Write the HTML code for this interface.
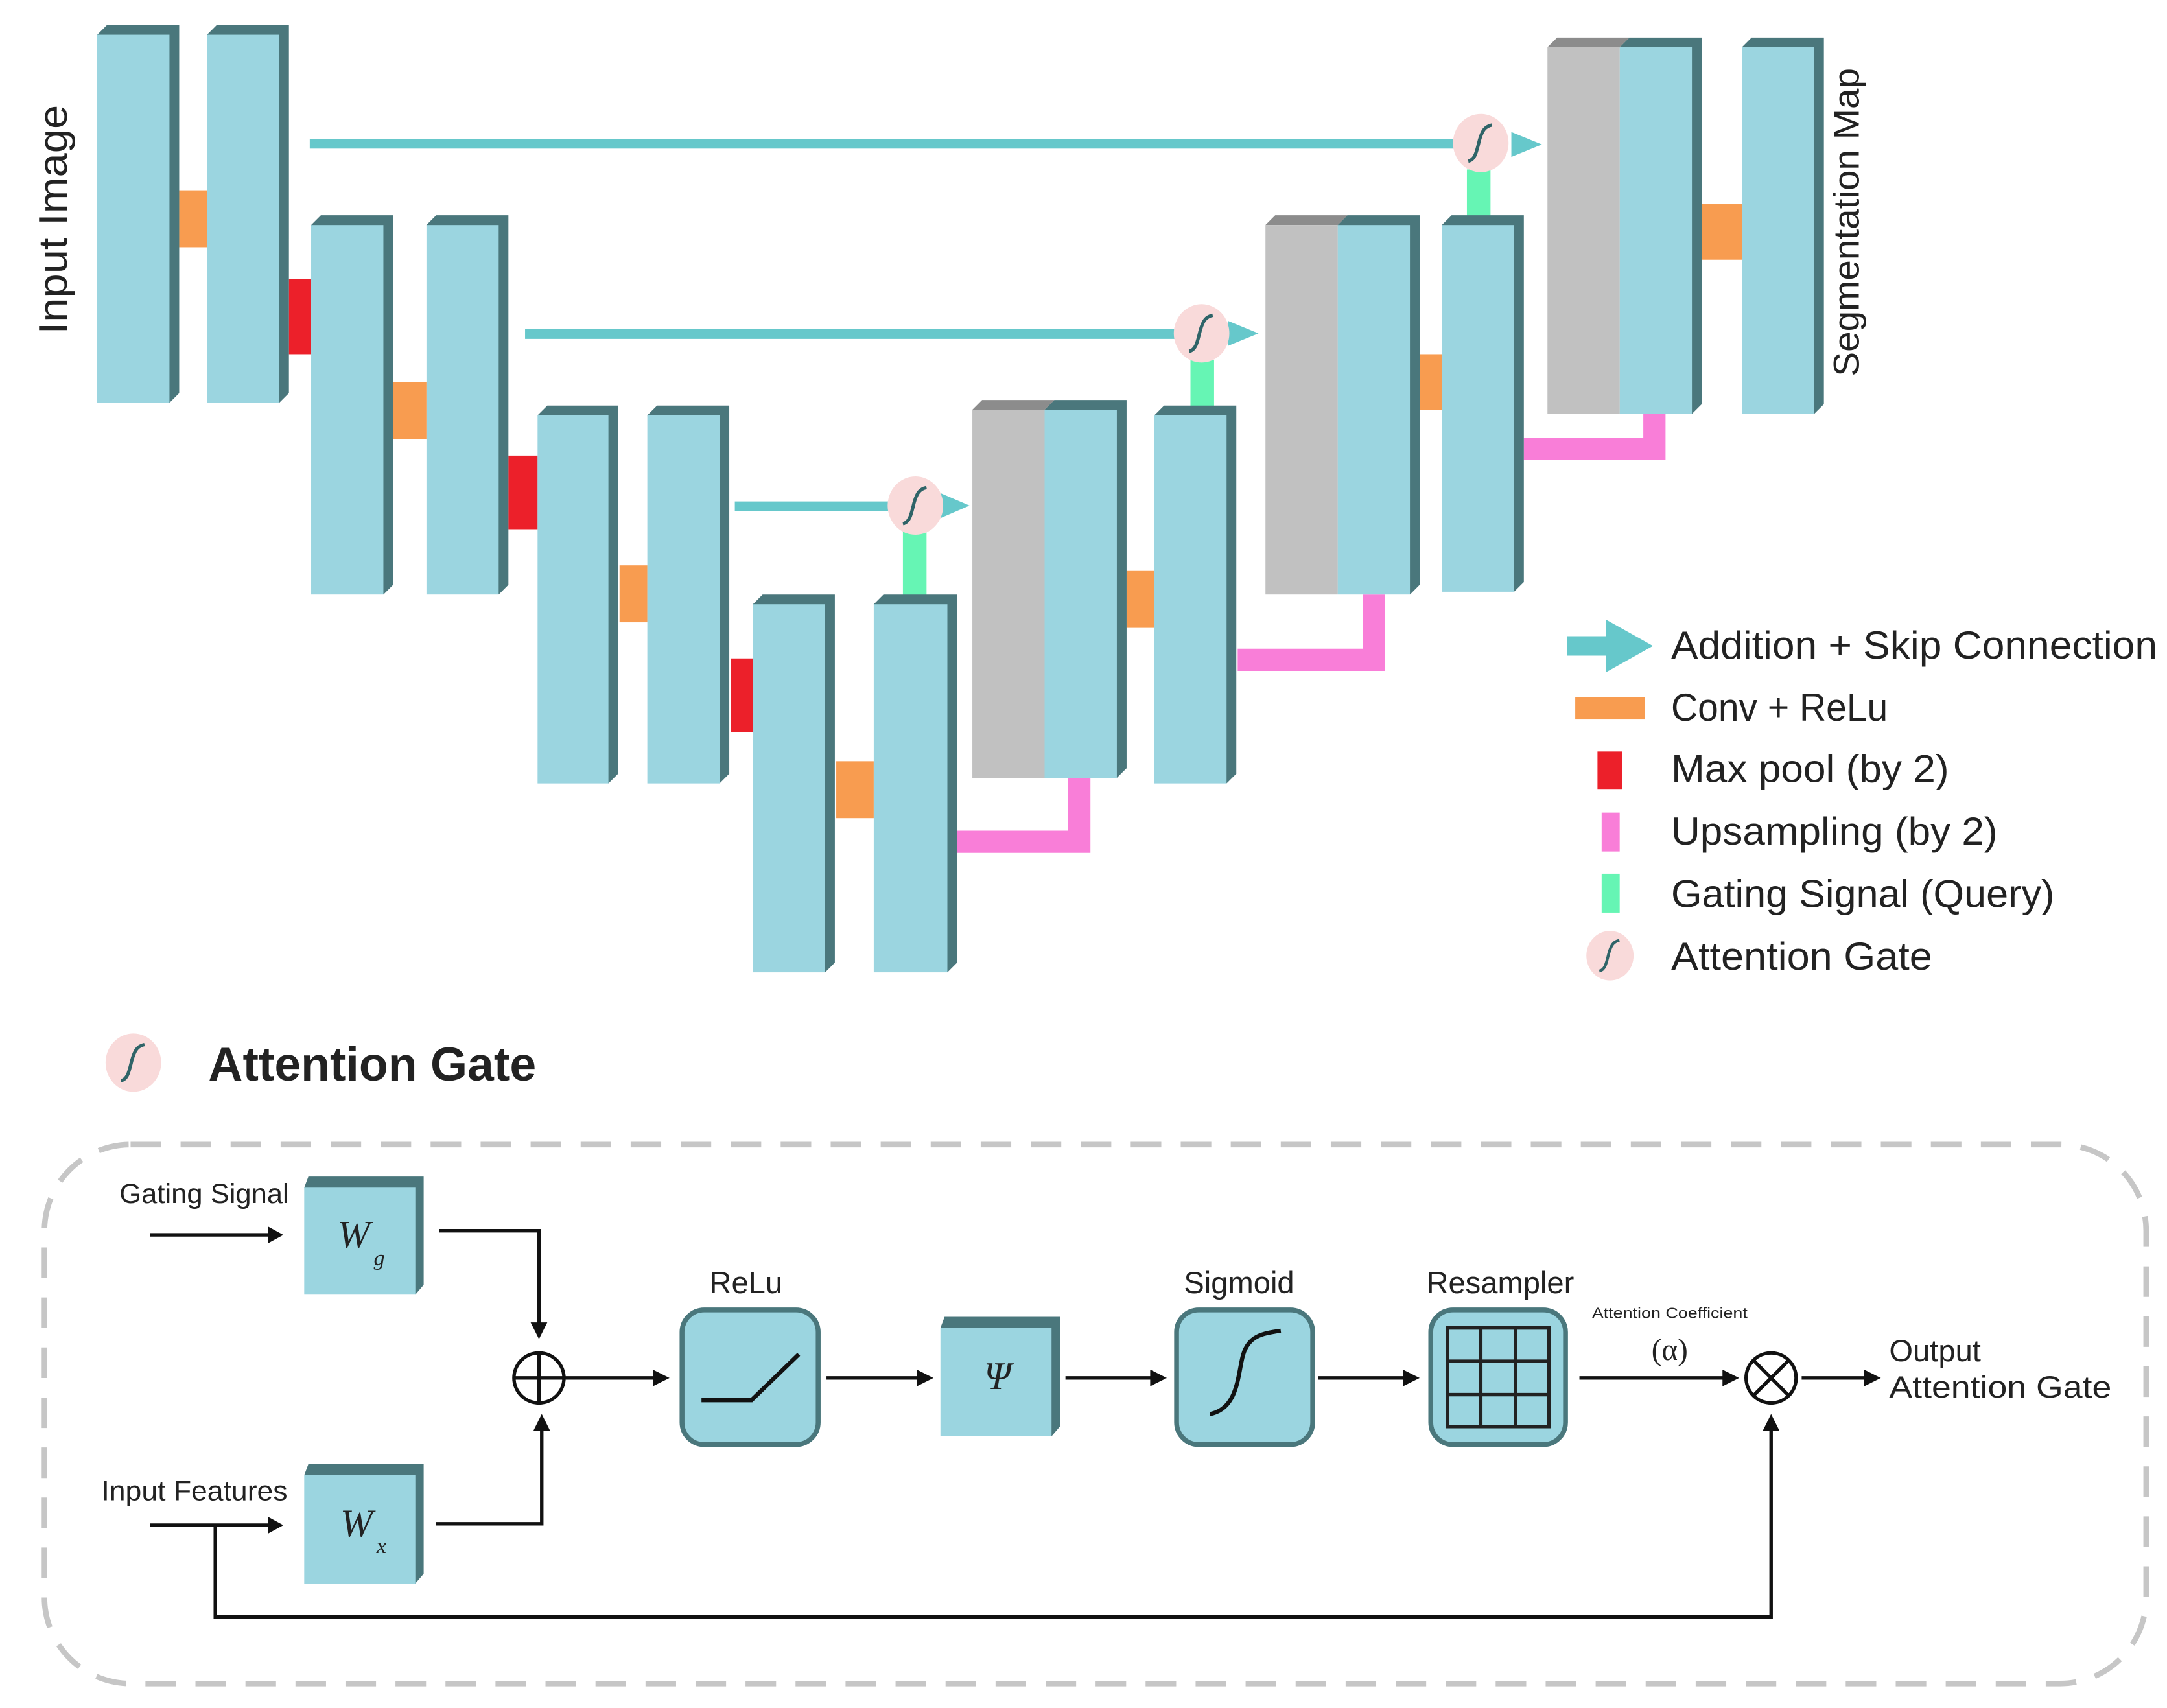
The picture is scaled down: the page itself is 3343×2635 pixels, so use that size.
<!DOCTYPE html>
<html><head><meta charset="utf-8">
<style>
html,body{margin:0;padding:0;background:#fff;}
svg{display:block;}
text{font-family:"Liberation Sans","DejaVu Sans",sans-serif;fill:#222;}
text.serif{font-family:"Liberation Serif","DejaVu Serif",serif;font-style:italic;}
</style></head>
<body>
<svg width="3343" height="2635" viewBox="0 0 1560 1229.6" preserveAspectRatio="none" xmlns="http://www.w3.org/2000/svg">
<defs>
<g id="gate">
<ellipse cx="0" cy="0" rx="20" ry="21" fill="#f9dada"/>
<path d="M-9,13 C-4,12 -3,6 -1,-2 C1,-9 3,-12 8,-13" fill="none" stroke="#2f6468" stroke-width="2.4"/>
</g>
</defs>

<rect x="223" y="100" width="824" height="7" fill="#66c8cb"/>
<polygon points="1088,95 1110,104 1088,113" fill="#66c8cb"/>
<rect x="378" y="237" width="468" height="7" fill="#66c8cb"/>
<polygon points="884,231 906,240 884,249" fill="#66c8cb"/>
<rect x="529" y="361" width="112" height="7" fill="#66c8cb"/>
<polygon points="677,355 698,364 677,373" fill="#66c8cb"/>

<rect x="1056" y="122" width="17" height="34" fill="#66f5b4"/>
<rect x="857" y="259" width="17" height="34" fill="#66f5b4"/>
<rect x="650" y="383" width="17" height="46" fill="#66f5b4"/>

<path d="M689,606 H777 V560" fill="none" stroke="#f97ed8" stroke-width="16"/>
<path d="M891,475 H989 V428" fill="none" stroke="#f97ed8" stroke-width="16"/>
<path d="M1097,323 H1191 V298" fill="none" stroke="#f97ed8" stroke-width="16"/>

<rect x="129" y="137" width="20" height="41" fill="#f89c50"/>
<rect x="208" y="201" width="16" height="54" fill="#ec202a"/>
<rect x="283" y="275" width="24" height="41" fill="#f89c50"/>
<rect x="366" y="328" width="21" height="53" fill="#ec202a"/>
<rect x="446" y="407" width="20" height="41" fill="#f89c50"/>
<rect x="526" y="474" width="16" height="53" fill="#ec202a"/>
<rect x="602" y="548" width="27" height="41" fill="#f89c50"/>
<rect x="811" y="411" width="20" height="41" fill="#f89c50"/>
<rect x="1022" y="255" width="16" height="40" fill="#f89c50"/>
<rect x="1225" y="147" width="29" height="40" fill="#f89c50"/>

<g fill="#4a777c">
<polygon points="70,25 77,18 129,18 129,283 122,290"/>
<polygon points="149,25 156,18 208,18 208,283 201,290"/>
<polygon points="224,162 231,155 283,155 283,421 276,428"/>
<polygon points="307,162 314,155 366,155 366,421 359,428"/>
<polygon points="387,299 394,292 445,292 445,557 438,564"/>
<polygon points="466,299 473,292 525,292 525,557 518,564"/>
<polygon points="542,435 549,428 601,428 601,693 594,700"/>
<polygon points="629,435 636,428 689,428 689,693 682,700"/>
<polygon points="752,295 759,288 811,288 811,553 804,560"/>
<polygon points="831,299 838,292 890,292 890,557 883,564"/>
<polygon points="963,162 970,155 1022,155 1022,421 1015,428"/>
<polygon points="1038,162 1045,155 1097,155 1097,419 1090,426"/>
<polygon points="1166,34 1173,27 1225,27 1225,291 1218,298"/>
<polygon points="1254,34 1261,27 1313,27 1313,291 1306,298"/>
</g>
<g fill="#8c8c8c">
<polygon points="700,295 707,288 759,288 752,295"/>
<polygon points="911,162 918,155 970,155 963,162"/>
<polygon points="1114,34 1121,27 1173,27 1166,34"/>
</g>
<g fill="#9bd5e0">
<rect x="70" y="25" width="52" height="265"/>
<rect x="149" y="25" width="52" height="265"/>
<rect x="224" y="162" width="52" height="266"/>
<rect x="307" y="162" width="52" height="266"/>
<rect x="387" y="299" width="51" height="265"/>
<rect x="466" y="299" width="52" height="265"/>
<rect x="542" y="435" width="52" height="265"/>
<rect x="629" y="435" width="53" height="265"/>
<rect x="752" y="295" width="52" height="265"/>
<rect x="831" y="299" width="52" height="265"/>
<rect x="963" y="162" width="52" height="266"/>
<rect x="1038" y="162" width="52" height="264"/>
<rect x="1166" y="34" width="52" height="264"/>
<rect x="1254" y="34" width="52" height="264"/>
</g>
<g fill="#c1c1c1">
<rect x="700" y="295" width="52" height="265"/>
<rect x="911" y="162" width="52" height="266"/>
<rect x="1114" y="34" width="52" height="264"/>
</g>

<use href="#gate" x="1066" y="103"/>
<use href="#gate" x="865" y="240"/>
<use href="#gate" x="659" y="364"/>

<text transform="translate(48,158) rotate(-90)" font-size="29" text-anchor="middle" textLength="165" lengthAdjust="spacingAndGlyphs">Input Image</text>
<text transform="translate(1338,160) rotate(-90)" font-size="26" text-anchor="middle" textLength="222" lengthAdjust="spacingAndGlyphs">Segmentation Map</text>

<polygon points="1128,458 1156,458 1156,446 1190,465 1156,484 1156,472 1128,472" fill="#66c8cb"/>
<text x="1203" y="474" font-size="28" textLength="350" lengthAdjust="spacingAndGlyphs">Addition + Skip Connection</text>
<rect x="1134" y="502" width="50" height="16" fill="#f89c50"/>
<text x="1203" y="519" font-size="28" textLength="156" lengthAdjust="spacingAndGlyphs">Conv + ReLu</text>
<rect x="1150" y="541" width="18" height="27" fill="#ec202a"/>
<text x="1203" y="563" font-size="28" textLength="200" lengthAdjust="spacingAndGlyphs">Max pool (by 2)</text>
<rect x="1153" y="585" width="13" height="28" fill="#f97ed8"/>
<text x="1203" y="608" font-size="28" textLength="235" lengthAdjust="spacingAndGlyphs">Upsampling (by 2)</text>
<rect x="1153" y="629" width="13" height="28" fill="#66f5b4"/>
<text x="1203" y="653" font-size="28" textLength="276" lengthAdjust="spacingAndGlyphs">Gating Signal (Query)</text>
<g transform="translate(1159,688) scale(0.85)"><use href="#gate"/></g>
<text x="1203" y="698" font-size="28" textLength="188" lengthAdjust="spacingAndGlyphs">Attention Gate</text>

<use href="#gate" x="96" y="765"/>
<text x="150" y="778" font-size="34" font-weight="bold" textLength="236" lengthAdjust="spacingAndGlyphs">Attention Gate</text>

<rect x="32" y="824" width="1513" height="388" rx="62" ry="62" fill="none" stroke="#c6c6c6" stroke-width="4" stroke-dasharray="22 14"/>

<polygon points="219,855 222,847 305,847 305,925 299,932" fill="#4a777c"/>
<rect x="219" y="855" width="80" height="77" fill="#9bd5e0"/>
<text class="serif" x="243" y="898" font-size="28">W</text>
<text class="serif" x="269" y="911" font-size="16">g</text>
<polygon points="219,1062 222,1054 305,1054 305,1133 299,1140" fill="#4a777c"/>
<rect x="219" y="1062" width="80" height="78" fill="#9bd5e0"/>
<text class="serif" x="245" y="1106" font-size="28">W</text>
<text class="serif" x="271" y="1118" font-size="16">x</text>

<text x="86" y="866" font-size="20" textLength="122" lengthAdjust="spacingAndGlyphs">Gating Signal</text>
<text x="73" y="1080" font-size="20" textLength="134" lengthAdjust="spacingAndGlyphs">Input Features</text>

<g stroke="#111" stroke-width="2.5" fill="none">
<line x1="108" y1="889" x2="195" y2="889"/>
<line x1="108" y1="1098" x2="195" y2="1098"/>
<path d="M316,886 H388 V954"/>
<path d="M314,1097 H390 V1028"/>
<path d="M155,1098 V1164 H1275 V1028"/>
<line x1="407" y1="992" x2="472" y2="992"/>
<line x1="595" y1="992" x2="662" y2="992"/>
<line x1="767" y1="992" x2="830" y2="992"/>
<line x1="949" y1="992" x2="1012" y2="992"/>
<line x1="1137" y1="992" x2="1242" y2="992"/>
<line x1="1297" y1="992" x2="1344" y2="992"/>
<circle cx="388" cy="992" r="18"/>
<line x1="370" y1="992" x2="406" y2="992"/><line x1="388" y1="974" x2="388" y2="1010"/>
<circle cx="1275" cy="992" r="18"/>
<line x1="1262" y1="979" x2="1288" y2="1005"/><line x1="1288" y1="979" x2="1262" y2="1005"/>
</g>
<g fill="#111">
<polygon points="204,889 193,883 193,895"/>
<polygon points="204,1098 193,1092 193,1104"/>
<polygon points="388,964 382,952 394,952"/>
<polygon points="390,1018 384,1030 396,1030"/>
<polygon points="1275,1018 1269,1030 1281,1030"/>
<polygon points="482,992 470,986 470,998"/>
<polygon points="672,992 660,986 660,998"/>
<polygon points="840,992 828,986 828,998"/>
<polygon points="1022,992 1010,986 1010,998"/>
<polygon points="1252,992 1240,986 1240,998"/>
<polygon points="1354,992 1342,986 1342,998"/>
</g>

<rect x="491" y="943" width="98" height="97" rx="16" fill="#9bd5e0" stroke="#4a777c" stroke-width="3.5"/>
<path d="M505,1008 H541 L575,975" fill="none" stroke="#111" stroke-width="3"/>
<text x="537" y="931" font-size="22" text-anchor="middle">ReLu</text>
<polygon points="677,956 680,948 763,948 763,1027 757,1034" fill="#4a777c"/>
<rect x="677" y="956" width="80" height="78" fill="#9bd5e0"/>
<text class="serif" x="718" y="1000" font-size="28" text-anchor="middle">Ψ</text>
<rect x="847" y="943" width="98" height="97" rx="16" fill="#9bd5e0" stroke="#4a777c" stroke-width="3.5"/>
<path d="M871,1018 C892,1014 891,988 895,975 C899,962 908,960 922,958" fill="none" stroke="#111" stroke-width="3"/>
<text x="892" y="931" font-size="22" text-anchor="middle">Sigmoid</text>
<rect x="1030" y="943" width="97" height="97" rx="16" fill="#9bd5e0" stroke="#4a777c" stroke-width="3.5"/>
<g fill="none" stroke="#222" stroke-width="2.5">
<rect x="1042" y="956" width="73" height="71"/>
<line x1="1066" y1="956" x2="1066" y2="1027"/><line x1="1091" y1="956" x2="1091" y2="1027"/>
<line x1="1042" y1="980" x2="1115" y2="980"/><line x1="1042" y1="1004" x2="1115" y2="1004"/>
</g>
<text x="1080" y="931" font-size="22" text-anchor="middle">Resampler</text>
<text x="1202" y="949" font-size="11" text-anchor="middle" textLength="112" lengthAdjust="spacingAndGlyphs">Attention Coefficient</text>
<text x="1202" y="979" font-size="22" text-anchor="middle" style="font-family:'Liberation Serif',serif">(α)</text>
<text x="1360" y="980" font-size="22">Output</text>
<text x="1360" y="1006" font-size="22" textLength="160" lengthAdjust="spacingAndGlyphs">Attention Gate</text>
</svg>
</body></html>
